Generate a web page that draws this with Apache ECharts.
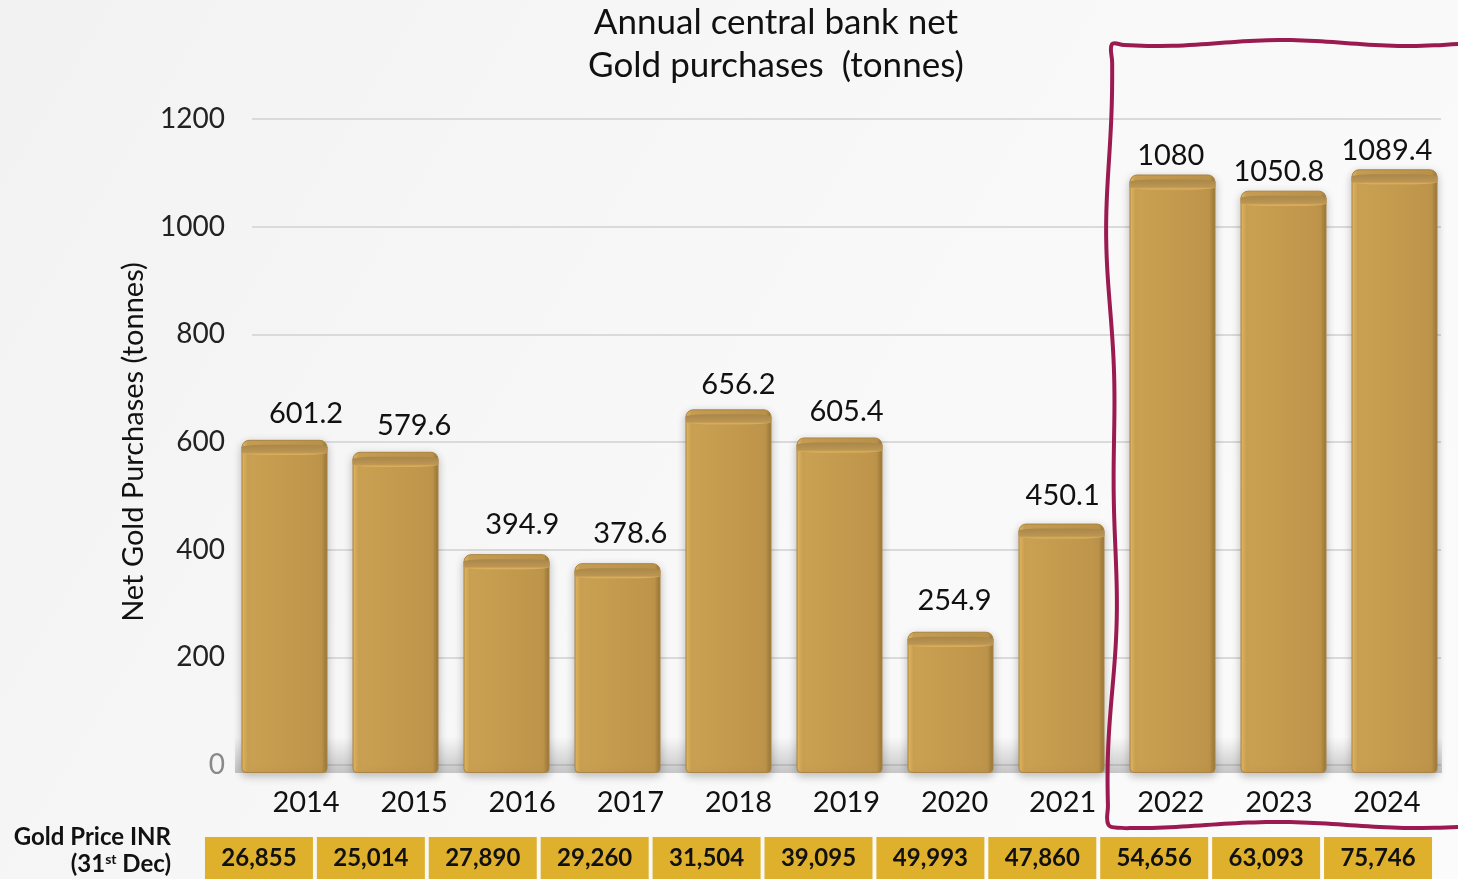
<!DOCTYPE html>
<html>
<head>
<meta charset="utf-8">
<script src="https://cdn.jsdelivr.net/npm/echarts@6/dist/echarts.min.js"></script>
<style>
  html, body { margin: 0; padding: 0; }
  #chart { width: 1458px; height: 879px; }
</style>
</head>
<body>
<div id="chart"></div>
<script>
// data
var years = ['2014', '2015', '2016', '2017', '2018', '2019', '2020', '2021', '2022', '2023', '2024']
var purchases = [601.2, 579.6, 394.9, 378.6, 656.2, 605.4, 254.9, 450.1, 1080, 1050.8, 1089.4]
var goldPrice = ['26,855', '25,014', '27,890', '29,260', '31,504', '39,095', '49,993', '47,860', '54,656', '63,093', '75,746']
var yTicks = [0, 200, 400, 600, 800, 1000, 1200]

var FONT = 'Lato, "Open Sans", sans-serif'

// wavy frame round the last three years (just decoration)
function wavyFrame() {
  var pts = []
  var i, t
  // top edge, right to left
  for (i = 0; i <= 30; i++) {
    t = i / 30
    pts.push([1470 - t * 358, 43 + 3 * Math.sin(t * 9)])
  }
  // left edge, top to bottom
  for (i = 1; i <= 40; i++) {
    t = i / 40
    pts.push([1112 - 4 * Math.sin(t * 7.5) + 2 * Math.sin(t * 19), 43 + t * 782])
  }
  // bottom edge, left to right
  for (i = 1; i <= 30; i++) {
    t = i / 30
    pts.push([1110 + t * 360, 825 + 3 * Math.sin(t * 8 + 1)])
  }
  return pts
}

var chart = echarts.init(document.getElementById('chart'))

var option = {
  backgroundColor: {
    type: 'linear', x: 0, y: 0, x2: 1, y2: 1,
    colorStops: [
      { offset: 0, color: '#f2f2f2' },
      { offset: 0.5, color: '#f8f8f8' },
      { offset: 1, color: '#fbfbfb' },
    ],
  },
  animation: false,
  textStyle: { fontFamily: FONT },
  title: {
    text: 'Annual central bank net\nGold purchases  (tonnes)',
    left: 771,
    textAlign: 'center',
    top: -4,
    textStyle: {
      fontFamily: FONT,
      fontSize: 35,
      fontWeight: 'normal',
      color: '#111',
      lineHeight: 43,
    },
  },
  grid: [
    // axis grid: gridlines, tick labels, value labels
    { left: 252, right: 17, top: 119, bottom: 114 },
    // the gold bars sit a little wider and lower than the axis grid
    { left: 229, right: 8, top: 108, bottom: 106 },
    // price table
    { left: 203, right: 24, top: 837, bottom: -12 },
  ],
  xAxis: [
    {
      type: 'category',
      gridIndex: 0,
      data: years,
      axisLine: { show: false },
      axisTick: { show: false },
      axisLabel: { color: '#111', fontSize: 29, margin: 23, fontFamily: FONT },
    },
    { type: 'category', gridIndex: 1, data: years, show: false },
    { type: 'category', gridIndex: 2, data: years, show: false },
  ],
  yAxis: [
    {
      type: 'value',
      gridIndex: 0,
      min: yTicks[0],
      max: yTicks[yTicks.length - 1],
      interval: 200,
      name: 'Net Gold Purchases (tonnes)',
      nameLocation: 'middle',
      nameGap: 104,
      nameTextStyle: { color: '#111', fontSize: 29, fontFamily: FONT },
      axisLine: { show: false },
      axisTick: { show: false },
      axisLabel: {
        fontSize: 28,
        margin: 27,
        fontFamily: FONT,
        formatter: function (v) { return String(v) },
        color: function (v) {
          return Number(v) === 0 ? '#8a8a8a' : '#222'
        },
      },
      splitLine: { lineStyle: { color: '#dadada', width: 2 } },
    },
    { type: 'value', gridIndex: 1, min: yTicks[0], max: yTicks[yTicks.length - 1], show: false },
    { type: 'value', gridIndex: 2, min: 0, max: 1, show: false },
  ],
  series: [
    {
      // invisible copy on the axis grid, carries the value labels
      name: 'labels',
      type: 'bar',
      xAxisIndex: 0,
      yAxisIndex: 0,
      data: purchases,
      barWidth: 86,
      silent: true,
      z: 1,
      itemStyle: { color: 'rgba(0,0,0,0)' },
      label: {
        show: true,
        position: 'top',
        distance: 13,
        color: '#111',
        fontSize: 29,
        fontFamily: FONT,
      },
    },
    {
      name: 'Net purchases',
      type: 'bar',
      xAxisIndex: 1,
      yAxisIndex: 1,
      data: purchases,
      barWidth: 86,
      z: 3,
      itemStyle: {
        borderRadius: [7, 7, 4, 4],
        borderColor: '#a98444',
        borderWidth: 1,
        color: {
          type: 'linear', x: 0, y: 0, x2: 1, y2: 0,
          colorStops: [
            { offset: 0, color: '#eabd5d' },
            { offset: 0.07, color: '#caa053' },
            { offset: 0.5, color: '#c49a4e' },
            { offset: 0.93, color: '#bd944a' },
            { offset: 1, color: '#9a7638' },
          ],
        },
        shadowColor: 'rgba(0,0,0,0.25)',
        shadowBlur: 8,
        shadowOffsetY: 3,
      },
      markArea: {
        silent: true,
        itemStyle: {
          color: {
            type: 'linear', x: 0, y: 0, x2: 0, y2: 1,
            colorStops: [
              { offset: 0, color: 'rgba(120,120,120,0)' },
              { offset: 1, color: 'rgba(120,120,120,0.4)' },
            ],
          },
        },
        data: [[{ yAxis: 0, x: 235 }, { yAxis: 65, x: 1442 }]],
      },
    },
    {
      // darker top cap of each bar
      name: 'cap',
      type: 'pictorialBar',
      xAxisIndex: 1,
      yAxisIndex: 1,
      data: purchases,
      symbol: 'roundRect',
      symbolSize: [86, 10],
      symbolPosition: 'end',
      symbolOffset: [0, '50%'],
      silent: true,
      z: 4,
      itemStyle: {
        color: {
          type: 'linear', x: 0, y: 0, x2: 0, y2: 1,
          colorStops: [
            { offset: 0, color: '#a8874b' },
            { offset: 0.75, color: '#bc9552' },
            { offset: 1, color: '#e2b85e' },
          ],
        },
      },
    },
    {
      name: 'Gold price',
      type: 'bar',
      xAxisIndex: 2,
      yAxisIndex: 2,
      data: years.map(function () { return 1 }),
      barCategoryGap: '3.5%',
      silent: true,
      itemStyle: { color: '#dfb02b' },
      label: {
        show: true,
        position: 'insideTop',
        distance: 9,
        color: '#111',
        fontSize: 24,
        fontWeight: 'bold',
        fontFamily: FONT,
        formatter: function (p) {
          return goldPrice[p.dataIndex]
        },
      },
    },
  ],
  graphic: [
    {
      type: 'text',
      right: 1458 - 171,
      top: 825,
      style: {
        text: 'Gold Price INR',
        fill: '#111',
        font: 'bold 24px ' + FONT,
        textAlign: 'right',
      },
    },
    {
      type: 'text',
      right: 1458 - 171,
      top: 852,
      style: {
        text: '{a|(31}{s|st}{a| Dec)}',
        rich: {
          a: { fontSize: 24, fontWeight: 'bold', fill: '#111', fontFamily: FONT },
          s: { fontSize: 14, fontWeight: 'bold', fill: '#111', fontFamily: FONT, verticalAlign: 'top', padding: [0, 0, 9, 0] },
        },
      },
    },
    {
      type: 'polyline',
      silent: true,
      z: 100,
      shape: { points: wavyFrame(), smooth: 0.4 },
      style: { stroke: '#9b1a4f', lineWidth: 4, fill: null },
    },
  ],
}

chart.setOption(option)
window.addEventListener('resize', function () {
  chart.resize()
})
</script>
</body>
</html>
